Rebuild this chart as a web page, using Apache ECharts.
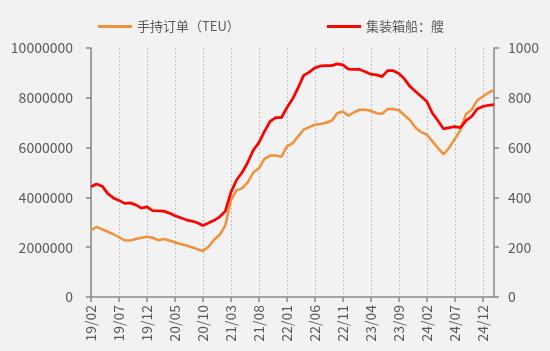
<!DOCTYPE html>
<html>
<head>
<meta charset="utf-8">
<script src="https://cdn.jsdelivr.net/npm/echarts@6/dist/echarts.min.js"></script>
<style>
html,body{margin:0;padding:0;background:#f2f2f2;}
#chart{width:550px;height:351px;}
</style>
</head>
<body>
<div id="chart"></div>
<script>
const categories = [
'19/02','19/03','19/04','19/05','19/06','19/07','19/08','19/09','19/10','19/11','19/12',
'20/01','20/02','20/03','20/04','20/05','20/06','20/07','20/08','20/09','20/10','20/11','20/12',
'21/01','21/02','21/03','21/04','21/05','21/06','21/07','21/08','21/09','21/10','21/11','21/12',
'22/01','22/02','22/03','22/04','22/05','22/06','22/07','22/08','22/09','22/10','22/11','22/12',
'23/01','23/02','23/03','23/04','23/05','23/06','23/07','23/08','23/09','23/10','23/11','23/12',
'24/01','24/02','24/03','24/04','24/05','24/06','24/07','24/08','24/09','24/10','24/11','24/12',
'25/01','25/02'
];
// 手持订单（TEU）, in million TEU
const orderbookM = [
2.68,2.82,2.72,2.62,2.52,2.40,2.28,2.27,2.33,2.38,2.42,
2.38,2.28,2.33,2.27,2.20,2.13,2.07,2.00,1.92,1.85,2.02,2.30,
2.50,2.88,3.90,4.28,4.36,4.60,5.00,5.17,5.55,5.68,5.68,5.63,
6.05,6.17,6.45,6.72,6.82,6.92,6.95,7.00,7.08,7.38,7.45,7.28,
7.42,7.52,7.52,7.48,7.38,7.36,7.55,7.55,7.50,7.30,7.10,6.80,
6.62,6.52,6.25,5.98,5.73,6.00,6.35,6.70,7.35,7.52,7.90,8.05,
8.20,8.32
];
const orderbookTEU = orderbookM.map(v => Math.round(v * 1000000));
// 集装箱船：艘
const shipCount = [
443,454,445,415,398,388,376,378,370,357,362,
347,346,345,337,326,318,310,305,298,287,297,308,
322,345,420,470,500,540,590,620,665,705,720,720,
760,795,840,890,903,920,928,929,929,936,932,915,
914,914,905,895,892,885,909,909,898,876,845,825,
805,785,738,708,675,680,684,680,708,725,755,765,
770,773
];
const leftTicks = [0, 2000000, 4000000, 6000000, 8000000, 10000000];
const rightTicks = [0, 200, 400, 600, 800, 1000];
const seriesNames = ['手持订单（TEU）', '集装箱船：艘'];

const FONT = '"Noto Sans CJK SC", "Noto Sans", sans-serif';
const TXT = '#595959';
const AXIS = '#898989';

const chart = echarts.init(document.getElementById('chart'), null, {renderer: 'canvas'});
chart.setOption({
  backgroundColor: '#f2f2f2',
  animation: false,
  textStyle: {fontFamily: FONT},
  legend: [
    {data: [seriesNames[0]], left: 93, top: 15, icon: 'rect', itemWidth: 34, itemHeight: 3, itemGap: 0,
     textStyle: {color: TXT, fontSize: 13, fontFamily: FONT}},
    {data: [seriesNames[1]], left: 322, top: 15, icon: 'rect', itemWidth: 34, itemHeight: 3, itemGap: 0,
     textStyle: {color: TXT, fontSize: 13, fontFamily: FONT}}
  ],
  grid: {left: 91, right: 56, top: 48, bottom: 54, containLabel: false},
  xAxis: {
    type: 'category',
    data: categories,
    boundaryGap: false,
    axisLine: {show: true, lineStyle: {color: AXIS, width: 1.5}},
    axisTick: {show: true, interval: 4, length: 5, lineStyle: {color: AXIS, width: 1.5}},
    axisLabel: {interval: 4, rotate: 90, color: TXT, fontSize: 14, fontFamily: FONT, margin: 8},
    splitLine: {show: true, interval: 4, lineStyle: {color: '#bfbfbf', type: [2, 2], width: 1}}
  },
  yAxis: [
    {
      type: 'value', min: leftTicks[0], max: leftTicks[leftTicks.length - 1], interval: leftTicks[1] - leftTicks[0],
      position: 'left',
      axisLine: {show: true, lineStyle: {color: AXIS, width: 1.5}},
      axisTick: {show: true, length: 5, lineStyle: {color: AXIS, width: 1.5}},
      axisLabel: {color: TXT, fontSize: 14, fontFamily: FONT, margin: 18, formatter: v => String(v)},
      splitLine: {show: false}
    },
    {
      type: 'value', min: rightTicks[0], max: rightTicks[rightTicks.length - 1], interval: rightTicks[1] - rightTicks[0],
      position: 'right',
      axisLine: {show: true, lineStyle: {color: AXIS, width: 1.5}},
      axisTick: {show: true, length: 5, lineStyle: {color: AXIS, width: 1.5}},
      axisLabel: {color: TXT, fontSize: 14, fontFamily: FONT, margin: 14, formatter: v => String(v)},
      splitLine: {show: false}
    }
  ],
  series: [
    {
      name: seriesNames[0], type: 'line', yAxisIndex: 0, data: orderbookTEU,
      showSymbol: false, symbol: 'none', smooth: false,
      lineStyle: {color: '#f0913c', width: 2.5},
      itemStyle: {color: '#f0913c'}
    },
    {
      name: seriesNames[1], type: 'line', yAxisIndex: 1, data: shipCount,
      showSymbol: false, symbol: 'none', smooth: false,
      lineStyle: {color: '#ff0000', width: 2.75},
      itemStyle: {color: '#ff0000'}
    }
  ]
});
</script>
</body>
</html>
